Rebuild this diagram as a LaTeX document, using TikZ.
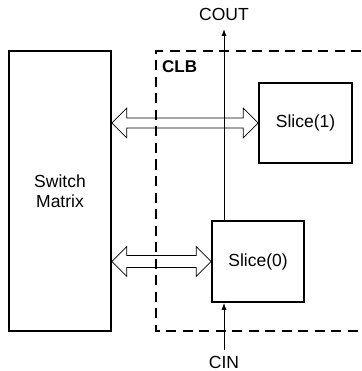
\documentclass[tikz,border=0pt]{standalone}
\usepackage{fontspec}
\setmainfont{Liberation Sans}
\usetikzlibrary{arrows.meta,calc}
\begin{document}
\begin{tikzpicture}[x=1pt,y=-1pt,
  box/.style={draw,line width=1.6pt,inner sep=0pt,font=\fontsize{17.5}{19}\selectfont},
  lbl/.style={font=\fontsize{17.5}{19}\selectfont,inner sep=0pt},
  dbl/.style={draw,line width=0.7pt,fill=white},
  clbline/.style={line width=1.4pt,dash pattern=on 10pt off 6.5pt},
  carry/.style={line width=0.9pt,-{Latex[length=7pt,width=5pt]}}]
\useasboundingbox (0,0) rectangle (361,371);
% Switch matrix
\node[box,minimum width=102pt,minimum height=280pt,align=center] (sm) at (60,191) {Switch\\[1.5pt]Matrix};
% Slices
\node[box,minimum width=93pt,minimum height=80pt] (s1) at (305.5,123) {Slice(1)};
\node[box,minimum width=92pt,minimum height=81pt] (s0) at (258,261.5) {Slice(0)};
% double arrows
\coordinate (a1l) at (sm.east |- s1.west);
\coordinate (a1r) at (s1.west);
\draw[dbl] (a1l) -- ++(15,-15) -- ++(0,10) -- ($(a1r)+(-15,-5)$) -- ++(0,-10) -- (a1r)
  -- ++(-15,15) -- ++(0,-10) -- ($(a1l)+(15,5)$) -- ++(0,10) -- cycle;
\coordinate (a0l) at (sm.east |- s0.west);
\coordinate (a0r) at (s0.west);
\draw[dbl] (a0l) -- ++(15,-15) -- ++(0,9) -- ($(a0r)+(-15,-6)$) -- ++(0,-9) -- (a0r)
  -- ++(-15,15) -- ++(0,-9) -- ($(a0l)+(15,6)$) -- ++(0,9) -- cycle;
% CLB dashed region
\draw[clbline] (361,51) -- (156,51) -- (156,331) -- (361,331);
\node[lbl,font=\fontsize{17}{19}\selectfont\bfseries,anchor=west] (clb) at (162,67) {CLB};
% carry chain
\node[lbl] (cout) at (224,14) {COUT};
\node[lbl] (cin) at (224,362) {CIN};
\coordinate (couttip) at (224,29);
\coordinate (cinbase) at (224,350);
\draw[carry] (s0.north -| couttip) -- (couttip);
\draw[carry] (cinbase) -- (s0.south -| cinbase);
\end{tikzpicture}
\end{document}
